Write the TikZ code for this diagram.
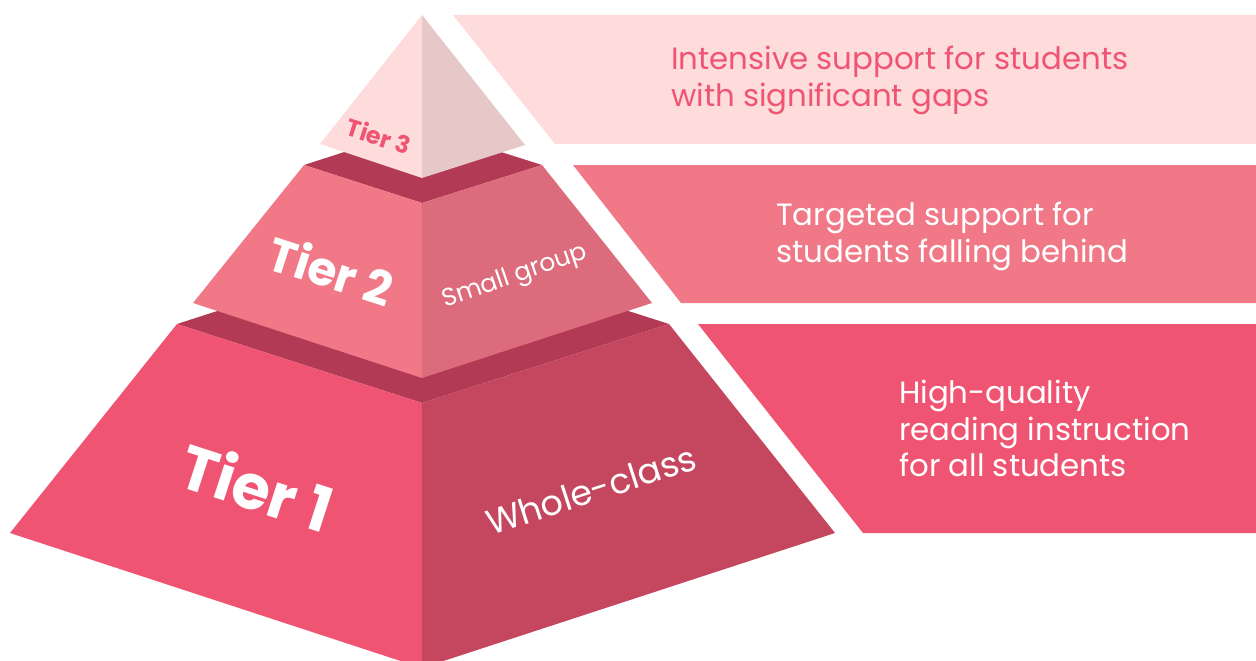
\documentclass[tikz,border=0pt]{standalone}
\usepackage{fontspec}
\setmainfont{Poppins}
\definecolor{palepink}{HTML}{FDDCDB}
\definecolor{paleshade}{HTML}{E6C8C8}
\definecolor{rimdark}{HTML}{B23A55}
\definecolor{midpink}{HTML}{F17886}
\definecolor{midshade}{HTML}{DC6C7C}
\definecolor{hotpink}{HTML}{EF5573}
\definecolor{hotshade}{HTML}{C5465F}
\tikzset{
  bannertext/.style={inner sep=0pt, anchor=north west, align=left,
    font=\fontsize{30.8}{36.5}\selectfont},
  tierlabel/.style={inner sep=0pt, font=\bfseries},
  facelabel/.style={inner sep=0pt, text=white}
}
\begin{document}
\begin{tikzpicture}[x=1pt,y=-1pt]
\useasboundingbox (0,0) rectangle (1256,661);
\clip (0,0) rectangle (1256,661);
% banners
\fill[palepink] (453,15) -- (1256,15) -- (1256,144) -- (555,144) -- cycle;
\fill[midpink] (573,165) -- (1256,165) -- (1256,303) -- (681,303) -- cycle;
\fill[hotpink] (698,324) -- (1256,324) -- (1256,533) -- (863,533) -- cycle;
% tier 1
\fill[rimdark] (177,324) -- (422,245) -- (669,324) -- (422,403) -- cycle;
\fill[hotpink] (177,324) -- (422,403) -- (422,668) -- (10,533) -- cycle;
\fill[hotshade] (422,403) -- (669,324) -- (835,533) -- (422,668) -- cycle;
% tier 2
\fill[rimdark] (304,165) -- (422,127) -- (542,165) -- (422,203) -- cycle;
\fill[midpink] (304,165) -- (422,203) -- (422,378) -- (193,303) -- cycle;
\fill[midshade] (422,203) -- (542,165) -- (652,303) -- (422,378) -- cycle;
% tier 3
\fill[palepink] (422,15) -- (422,178) -- (320,144) -- cycle;
\fill[paleshade] (422,15) -- (525,145) -- (422,178) -- cycle;
% labels on pyramid
\node[tierlabel, text=white, rotate=-18, font=\bfseries\fontsize{62}{66}\selectfont] (t1) at (257,486) {Tier 1};
\node[tierlabel, text=white, rotate=-18, font=\bfseries\fontsize{47}{51}\selectfont] (t2) at (331,270) {Tier 2};
\node[tierlabel, text=hotpink, rotate=-18, font=\bfseries\fontsize{24}{28}\selectfont] (t3) at (379,136) {Tier 3};
\node[facelabel, rotate=19, font=\fontsize{25}{29}\selectfont] (sg) at (515,277) {Small group};
\node[facelabel, rotate=18, font=\fontsize{35}{39}\selectfont] (wc) at (591,490) {Whole-class};
% banner texts
\node[bannertext, text=hotpink] (b3) at (671,46) {Intensive support for students\\with significant gaps};
\node[bannertext, text=white] (b2) at (776,202) {Targeted support for\\students falling behind};
\node[bannertext, text=white] (b1) at (899,380) {High-quality\\reading instruction\\for all students};
\end{tikzpicture}
\end{document}
